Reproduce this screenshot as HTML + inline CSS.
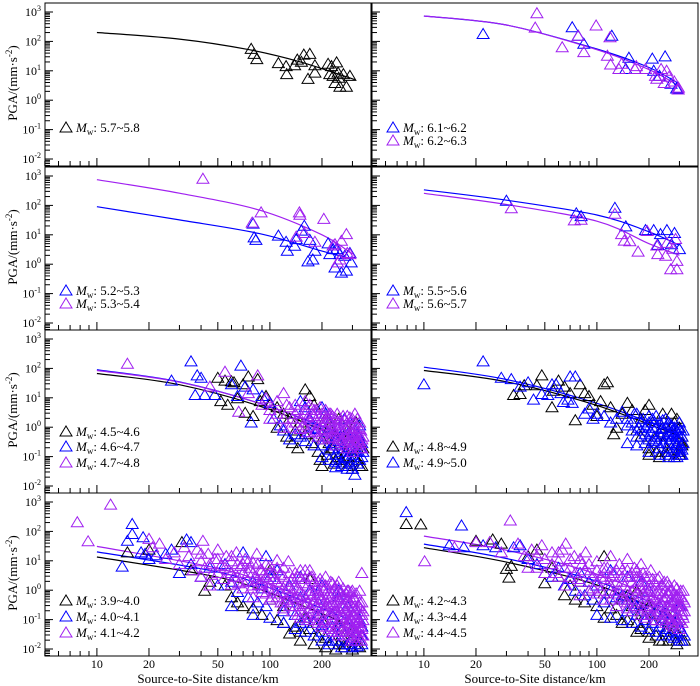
<!DOCTYPE html>
<html><head><meta charset="utf-8"><style>
html,body{margin:0;padding:0;background:#fff;}
svg{display:block;font-family:"Liberation Serif",serif;}
</style></head><body>
<svg id="chart" width="700" height="686" viewBox="0 0 700 686" xmlns="http://www.w3.org/2000/svg"></svg>
<script>
// ---------- data ----------
const yTickExps = [3,2,1,0,-1,-2];
const xTickLabels = [10,20,50,100,200];
const xMinorTicks = [5,6,7,8,9,30,40,60,70,80,90,300];
const rowTops = [12,176,339,502];

// Panel A: Mw 5.7~5.8
const ptsA1 = [[78,58],[81,39],[84,26],[112,19],[124,15],[125,8],[139,16],[144,25],[152,21],[157,37],[170,39],[182,16],[182,9],[166,5.5],[217,18],[227,15],[243,20],[222,8],[232,7],[248,9],[266,8],[290,7],[238,4],[254,3],[277,3],[250,6]];
const crvA1 = [[10,200],[30,120],[76,52],[150,20],[310,5]];
// Panel B: Mw 6.1~6.3
const ptsB1 = [[22,186],[72,316],[78,163],[84,87],[122,163],[153,29],[147,12],[209,27],[248,32],[213,10.5],[268,3.8],[289,2.6],[230,7]];
const ptsB2 = [[45,950],[44,307],[99,360],[78,160],[63,66],[84,45],[115,34],[119,145],[120,17],[134,12],[139,18],[166,12],[169,15],[191,12],[218,7],[222,5.6],[253,10.5],[261,6.5],[280,4.5],[296,2.8],[235,12],[295,2.4],[245,4]];
const crvB1 = [[10,730],[30,360],[100,55],[200,13],[300,3.6]];
const crvB2 = [[10,730],[30,360],[100,52],[200,11],[300,3]];
// Panel C: Mw 5.2~5.4
const ptsC1 = [[80,25],[81,8.5],[83,7],[112,9.8],[124,6],[126,3],[139,4.4],[142,7.4],[152,14.5],[158,21],[170,7],[182,3],[166,1.3],[177,1.5],[217,5.3],[222,2.3],[232,3.4],[243,3.4],[254,2.3],[238,0.8],[259,0.54],[277,0.63],[290,2.5],[295,1.2],[271,2]];
const ptsC2 = [[41,840],[79,27],[89,60],[148,60],[149,50],[142,9],[205,36],[158,12],[182,6],[238,5],[259,6.5],[277,11],[246,1.2],[254,1.5],[290,2.3],[280,2.5],[232,4.5]];
const crvC1 = [[10,90],[30,32],[87,11],[200,2.8],[300,1.5]];
const crvC2 = [[10,750],[30,260],[87,69],[200,10],[300,2.2]];
// Panel D: Mw 5.5~5.7
const ptsD1 = [[30,150],[76,56],[81,45],[127,86],[147,20],[191,15],[213,15],[233,11],[254,15],[281,12],[300,3.4],[225,4.7],[270,5]];
const ptsD2 = [[32,83],[74,32],[81,34],[127,54],[139,11],[144,6.6],[155,6.3],[173,2.8],[195,14],[222,4.5],[225,2.3],[250,2],[267,0.7],[290,0.7],[290,1.35],[275,3.5],[254,5.5],[285,7.5]];
const crvD1 = [[10,340],[30,150],[100,47],[200,12.6],[300,4.4]];
const crvD2 = [[10,257],[30,107],[100,29],[200,5],[300,2]];
// Panel E: Mw 4.5~4.8
const ptsE1 = [[50,50],[55,40],[60,38],[62,35],[75,55],[85,45],[70,30],[52,8],[57,6],[65,10],[72,3.2],[80,2.5],[88,8],[95,12],[100,6],[110,5],[120,3],[130,2],[140,0.8],[150,1.5],[160,20],[170,12],[180,6],[110,1],[125,0.5],[135,0.3],[145,0.2],[160,0.6],[175,0.3],[190,0.15],[200,0.4],[210,2],[220,1],[230,0.2],[240,0.5],[250,0.1],[260,0.08],[270,0.3],[280,0.05],[290,0.06],[300,0.04],[310,0.1],[320,0.2],[330,0.05],[195,0.08],[215,0.12],[235,0.06],[255,0.25],[275,0.15],[295,0.7],[315,1.5],[325,0.5],[250,2],[280,0.8],[300,0.3],[200,0.05],[240,0.08],[280,0.1],[320,0.08],[340,0.05],[345,0.2],[220,0.3],[260,0.4]];
const ptsE2 = [[27,40],[35,180],[38,60],[40,50],[37,13],[42,13],[48,13],[68,130],[72,25],[80,20],[60,30],[65,12],[78,1.5],[90,12],[100,7],[105,2],[115,1.2],[120,0.8],[130,0.4],[140,3],[150,8],[160,5],[170,2],[180,1],[190,0.5],[200,5],[210,3],[220,1.5],[230,0.8],[240,0.4],[250,0.2],[260,0.15],[270,0.1],[280,0.6],[290,0.3],[300,0.04],[310,0.025],[320,0.15],[330,0.08],[240,0.045],[260,0.06],[280,0.09],[300,0.12],[320,0.35],[330,1.2],[200,0.25],[220,0.18],[240,0.12],[180,0.25],[160,0.35],[140,0.6],[250,1],[270,2],[290,1.5],[310,0.8],[325,0.5],[215,0.7],[235,0.3],[255,0.5],[275,0.25],[295,0.2],[315,0.15],[200,0.1],[220,0.08],[240,0.07],[260,0.05],[280,0.04],[300,0.07],[320,0.06],[340,0.1],[340,0.3],[210,0.5],[230,0.25],[250,0.35],[270,0.2],[290,0.15],[310,0.4],[330,0.25],[345,0.15],[150,0.5],[170,0.7],[190,0.9]];
const ptsE3 = [[15,150],[45,25],[55,80],[75,15],[85,60],[66,3.5],[95,10],[110,8],[120,15],[130,5],[140,3],[150,2],[160,4],[170,6],[180,2.5],[190,1.2],[200,3],[210,1.5],[220,2],[230,1],[240,0.6],[250,1.5],[260,0.8],[270,0.5],[280,1.2],[290,0.35],[300,0.7],[310,3],[320,0.4],[330,0.9],[200,0.6],[220,0.45],[240,0.25],[260,0.3],[280,0.2],[300,0.15],[315,0.25],[330,0.2],[180,0.7],[160,1],[140,1.5],[120,2],[100,4],[90,6],[130,1],[150,0.9],[170,1.8],[190,0.5],[210,0.9],[230,0.5],[250,0.4],[270,1.8],[290,2.2],[305,1],[325,0.6],[185,4],[225,3],[265,2.5],[295,0.5],[315,0.3],[245,0.9],[205,1.2],[165,2.2],[100,2],[110,3],[120,1],[125,6],[135,2],[145,4],[155,1.2],[160,8],[165,0.7],[175,3],[180,1.5],[185,0.8],[190,2.5],[195,5],[200,1.2],[205,0.4],[210,4],[215,2],[220,0.8],[225,1.5],[230,2.5],[235,0.7],[240,1.2],[245,3],[250,0.7],[255,1.8],[260,0.4],[265,1.2],[270,0.3],[275,0.9],[280,2.5],[285,0.6],[290,1.2],[295,0.25],[300,2],[305,0.5],[310,1.5],[310,0.6],[315,1],[320,2],[320,0.7],[325,0.35],[330,1.5],[330,0.5],[335,0.3],[335,0.8],[340,0.4],[340,0.2],[345,0.5],[300,0.25],[280,0.35],[260,1.5],[240,2],[220,3],[200,2],[180,4],[160,3],[140,6]];
const crvE1 = [[10,67],[30,28],[100,4],[300,0.3]];
const crvE2 = [[10,90],[30,35],[100,5],[300,0.4]];
const crvE3 = [[10,85],[30,34],[100,5],[300,0.45]];
// Panel F: Mw 4.8~5.0
const ptsF1 = [[33,13],[36,14],[38,28],[45,28],[48,60],[55,5],[56,18],[60,40],[65,25],[70,15],[75,1.8],[80,30],[85,15],[90,12],[95,6],[100,2.5],[105,8],[110,30],[115,35],[120,5],[125,0.6],[130,1],[140,3],[150,7],[160,4],[170,0.8],[180,2],[190,4],[200,6],[210,1.5],[220,0.5],[230,0.1],[240,0.3],[250,2],[260,0.8],[270,0.2],[280,1.5],[290,0.4],[300,0.15],[310,0.3],[180,0.5],[200,0.2],[220,0.15],[240,1],[260,0.15],[280,0.6],[300,1],[310,0.25],[200,0.12],[250,0.15],[280,0.1],[300,0.12],[310,0.5],[240,3],[270,3],[290,2]];
const ptsF2 = [[10,30],[22,180],[28,50],[32,45],[36,25],[40,35],[43,9],[48,14],[52,13],[55,30],[58,30],[62,15],[64,7.5],[70,55],[75,55],[72,7],[68,9],[85,3],[90,4.5],[95,2],[100,3],[110,2.5],[120,1.5],[130,2],[140,3.5],[150,1.2],[160,0.8],[170,3],[180,1.5],[190,0.6],[200,2.5],[210,1],[220,0.4],[230,0.2],[240,1.8],[250,0.5],[260,0.3],[270,1.2],[280,0.15],[290,0.5],[300,0.2],[305,0.8],[310,0.12],[150,0.3],[170,0.25],[190,0.3],[210,0.35],[230,0.6],[250,0.12],[270,0.7],[290,0.25],[175,1],[195,1.2],[215,1.5],[235,0.9],[255,1.3],[275,0.5],[295,1],[150,2],[160,1.5],[165,3],[170,0.5],[180,0.8],[185,2],[190,1],[200,0.4],[200,1.5],[205,0.7],[210,2],[215,0.5],[220,1],[220,2.5],[225,0.3],[230,1.5],[235,0.5],[240,0.7],[245,0.3],[250,1],[250,2],[255,0.2],[260,0.6],[260,1.5],[265,0.4],[270,0.15],[275,0.8],[280,0.3],[280,1],[285,0.5],[290,0.15],[290,0.8],[295,0.35],[300,0.5],[300,1.5],[305,0.25],[310,0.5],[310,0.18],[315,0.3],[315,0.8],[200,0.15],[230,0.12],[260,0.1],[290,0.1],[305,0.12]];
const crvF1 = [[10,85],[30,35],[100,5.5],[300,0.5]];
const crvF2 = [[10,110],[30,42],[100,6.5],[300,0.6]];
// Panel G: Mw 3.9~4.2
const ptsG1 = [[15,20],[20,25],[31,45],[42,1],[35,5],[45,2],[55,1.5],[60,0.6],[65,0.4],[70,0.3],[80,0.25],[90,0.15],[100,0.5],[110,0.1],[120,0.08],[130,0.035],[140,0.06],[150,0.04],[170,0.05],[190,0.03],[210,0.025],[230,0.02],[250,0.015],[270,0.012],[290,0.02],[310,0.015],[330,0.012],[100,5],[170,2.5],[120,0.3],[200,0.1],[250,0.06],[300,0.04],[150,0.02],[180,0.015],[210,0.012],[240,0.01],[270,0.015],[300,0.01],[330,0.02],[160,0.12],[260,0.03]];
const ptsG2 = [[14,6.6],[16,186],[16,85],[15,50],[18.5,66],[19,18],[35,45],[18,20],[20,12],[22,16],[25,18],[27,25],[30,4],[33,55],[35,8],[40,3],[45,6],[50,1.5],[55,8],[60,2],[65,0.9],[70,4],[75,0.6],[80,2],[85,0.4],[90,1.2],[95,0.3],[100,3],[110,0.8],[120,0.2],[130,1.5],[140,0.15],[150,0.6],[160,0.1],[170,1],[180,0.08],[190,0.4],[200,0.04],[210,0.3],[220,0.02],[230,0.15],[240,0.03],[250,0.6],[260,0.02],[270,0.1],[280,0.3],[290,0.015],[300,0.05],[310,0.2],[320,0.013],[330,0.1],[340,0.03],[200,1.5],[250,1],[150,3],[110,5],[230,0.06],[260,0.05],[290,0.04],[310,0.03],[70,20],[95,15],[130,0.4],[170,0.25],[190,0.15],[60,0.3],[80,0.15],[100,0.12],[120,0.08],[140,0.05],[160,0.04],[180,0.03],[200,0.02],[220,0.015],[240,0.02],[260,0.012],[280,0.015],[300,0.012],[320,0.02],[340,0.015],[150,0.08],[200,0.07],[250,0.03],[300,0.025],[340,0.06]];
const ptsG3 = [[7.7,213],[8.9,48],[12,850],[20,58],[21,30],[23,40],[41,50],[25,12],[28,20],[30,8],[32,30],[34,15],[36,5],[38,25],[40,10],[42,6],[44,18],[46,3.5],[48,12],[50,25],[52,7],[54,2.5],[56,15],[58,5],[60,10],[62,3],[64,20],[66,1.8],[68,7],[70,4],[72,12],[74,2.2],[76,6],[78,1.2],[80,9],[82,3],[84,18],[86,1.6],[88,5],[90,0.9],[92,3.5],[95,8],[98,1.2],[100,4],[103,0.6],[106,2.5],[110,6],[113,1.5],[116,0.4],[120,3],[124,0.9],[128,10],[132,2],[136,0.5],[140,4],[144,1.2],[148,0.3],[152,2.5],[156,0.7],[160,5],[165,1.5],[170,0.25],[175,3],[180,0.8],[185,0.15],[190,2],[195,0.5],[200,1.2],[205,0.1],[210,3],[215,0.35],[220,0.8],[225,0.06],[230,1.8],[235,0.2],[240,0.5],[245,0.04],[250,1.2],[255,0.12],[260,0.3],[265,0.7],[270,0.03],[275,0.2],[280,1],[285,0.08],[290,0.4],[295,0.02],[300,0.15],[305,0.6],[310,0.05],[315,0.25],[320,0.03],[325,0.1],[330,0.4],[335,0.06],[340,4],[340,0.15],[338,0.02],[120,0.25],[150,0.12],[180,0.4],[200,0.3],[220,0.15],[240,0.2],[260,0.1],[280,0.06],[300,0.05],[320,0.08],[110,11],[170,5],[250,2],[300,1],[330,1],[140,0.6],[190,0.7],[230,0.4],[270,0.6],[310,0.3],[90,2],[130,0.7],[160,0.35],[210,0.5],[250,0.25],[290,0.12],[325,0.04],[60,1.6],[70,1.2],[80,0.6],[45,1.5],
 [40,3],[40,18],[45,8],[50,4],[50,12],[55,6],[60,4],[60,15],[65,3],[65,8],[70,2],[70,8],[75,4],[75,10],[80,1.5],[80,4],[85,2.5],[85,8],[90,1.5],[90,5],[95,0.8],[95,3],[100,0.5],[100,1.8],[100,7],[105,1],[105,4],[110,0.6],[110,2],[115,0.8],[115,3.5],[120,0.4],[120,1.2],[120,6],[125,0.5],[125,2],[130,0.3],[130,1.2],[130,4],[135,0.2],[135,0.8],[135,2.5],[140,0.3],[140,1.5],[145,0.15],[145,0.6],[145,3],[150,0.2],[150,1],[150,5],[155,0.35],[155,1.8],[160,0.15],[160,0.6],[160,2.5],[165,0.1],[165,0.4],[170,0.12],[170,0.8],[170,3],[175,0.2],[175,1],[180,0.1],[180,0.5],[180,2],[185,0.3],[185,1.2],[190,0.08],[190,0.25],[190,1],[195,0.15],[195,0.7],[195,2.5],[200,0.06],[200,0.5],[200,2],[205,0.2],[205,1],[210,0.08],[210,0.3],[210,1.5],[215,0.06],[215,0.6],[220,0.05],[220,0.3],[220,1.2],[225,0.15],[225,0.6],[225,2],[230,0.04],[230,0.1],[230,0.8],[235,0.3],[235,1.2],[240,0.05],[240,0.12],[240,0.8],[245,0.3],[245,1.5],[250,0.03],[250,0.08],[250,0.5],[255,0.2],[255,0.9],[260,0.04],[260,0.15],[260,0.6],[265,0.05],[265,0.25],[265,1.2],[270,0.08],[270,0.3],[275,0.04],[275,0.12],[275,0.8],[280,0.03],[280,0.2],[280,0.5],[285,0.05],[285,0.3],[285,1],[290,0.03],[290,0.08],[290,0.6],[295,0.05],[295,0.2],[295,0.9],[300,0.025],[300,0.1],[300,0.3],[305,0.04],[305,0.15],[310,0.02],[310,0.08],[310,0.5],[315,0.04],[315,0.12],[315,0.8],[320,0.02],[320,0.05],[320,0.2],[325,0.06],[325,0.3],[330,0.025],[330,0.15],[335,0.03],[335,0.08],[335,0.25],[340,0.05],[340,0.4],[345,0.03],[345,0.1],[345,0.2]];
const crvG1 = [[10,13.5],[47,3],[100,0.8],[300,0.06]];
const crvG2 = [[10,20],[47,4.5],[100,1.2],[300,0.09]];
const crvG3 = [[10,31],[47,6],[100,1.6],[300,0.12]];
// Panel H: Mw 4.2~4.5
const ptsH1 = [[7.9,186],[9.6,180],[20,50],[25,55],[28,40],[30,5.5],[31,2.8],[32,7],[40,15],[45,25],[50,1.8],[55,6],[60,3],[65,0.7],[70,1.5],[75,0.5],[80,2],[85,0.4],[90,1],[100,0.3],[110,15],[110,0.8],[120,0.25],[130,0.15],[140,0.5],[150,0.1],[160,0.3],[170,0.08],[180,0.05],[190,0.15],[200,0.04],[210,0.1],[220,0.03],[230,0.06],[240,0.02],[250,0.04],[260,0.08],[270,0.03],[280,0.05],[290,0.02],[300,0.03],[310,0.02],[150,0.7],[200,0.3],[250,0.2],[300,0.1],[120,1.5],[170,1],[110,0.12],[140,0.08],[170,0.04],[200,0.025],[230,0.02],[260,0.02],[290,0.015],[320,0.02],[180,0.2],[240,0.1]];
const ptsH2 = [[7.9,470],[16.5,165],[14,35],[17,30],[22,35],[26,30],[33,30],[36,35],[40,12],[45,8],[50,4],[55,3],[60,6],[65,1.5],[70,2.5],[75,1],[80,4],[85,0.7],[90,2],[95,0.5],[100,1.5],[110,0.4],[120,1],[130,0.3],[140,0.7],[150,0.2],[160,0.5],[170,0.15],[180,0.35],[190,0.1],[200,0.25],[210,0.08],[220,0.2],[230,0.06],[240,0.15],[250,0.05],[260,0.1],[270,0.04],[280,0.08],[290,0.03],[300,0.06],[310,0.02],[310,0.04],[150,3],[200,1],[250,0.6],[300,0.3],[120,5],[180,2],[270,0.4],[100,0.15],[120,0.12],[140,0.1],[160,0.08],[180,0.06],[200,0.05],[220,0.04],[240,0.03],[260,0.03],[280,0.025],[300,0.02],[320,0.03],[130,0.6],[170,0.3],[210,0.15],[250,0.12],[290,0.1],[310,0.15],[150,0.5],[230,0.3]];
const ptsH3 = [[10.1,10],[31.6,245],[15,30],[20,45],[24,45],[28,20],[35,40],[38,15],[42,25],[45,6],[48,35],[50,12],[55,20],[58,4],[60,10],[63,25],[66,40],[66,1.5],[70,6],[74,15],[78,2.5],[82,8],[86,20],[90,4],[95,1.2],[100,10],[105,3],[110,6],[115,1.5],[120,15],[125,4],[130,0.8],[135,8],[140,2],[145,0.5],[150,12],[155,3],[160,1],[165,6],[170,0.4],[175,2],[180,8],[185,0.8],[190,3],[195,0.3],[200,1.5],[205,5],[210,0.6],[215,2],[220,0.25],[225,1],[230,3],[235,0.4],[240,1.5],[245,0.15],[250,0.6],[255,2],[260,0.3],[265,1],[270,0.1],[275,0.5],[280,1.5],[285,0.2],[290,0.7],[295,0.08],[300,0.4],[305,1],[310,0.15],[315,0.5],[100,0.8],[130,0.3],[160,0.2],[190,0.12],[220,0.1],[250,0.08],[280,0.06],[300,0.05],[120,0.5],[150,0.25],[180,0.15],[210,0.15],[240,0.1],[270,0.07],[140,5],[170,3],[200,0.7],[230,0.5],[260,0.8],[290,0.3],[310,0.2],[90,1],[70,3],[80,0.7],[110,2.5],
 [40,6],[45,15],[50,4],[55,8],[60,3],[60,20],[65,6],[70,12],[75,4],[80,2],[80,12],[85,5],[90,8],[95,3],[100,2],[100,5],[105,1],[110,0.5],[110,4],[115,6],[120,1.5],[120,3],[125,0.8],[130,2],[130,5],[135,1],[140,0.6],[140,3],[145,1.5],[150,0.4],[150,1],[150,5],[155,0.7],[160,2],[160,4],[165,0.3],[165,1.2],[170,0.8],[170,5],[175,0.5],[175,3],[180,0.25],[180,1.2],[185,2],[185,4],[190,0.6],[190,1.5],[195,0.2],[195,0.9],[200,0.4],[200,3],[205,0.15],[205,1.2],[210,0.3],[210,2.5],[215,0.5],[215,1],[220,0.15],[220,1.5],[225,0.4],[225,2.5],[230,0.2],[230,0.8],[235,0.1],[235,1.5],[240,0.3],[240,0.8],[245,0.5],[245,2],[250,0.15],[250,1],[255,0.3],[255,0.8],[260,0.12],[260,1.5],[265,0.2],[265,0.5],[270,0.3],[270,1],[275,0.08],[275,0.2],[280,0.4],[280,0.8],[285,0.1],[285,0.5],[290,0.15],[290,1.2],[295,0.3],[295,0.6],[300,0.1],[300,0.2],[305,0.3],[305,0.6],[310,0.08],[310,0.3],[315,0.12],[315,1],[320,0.2],[320,0.4]];
const crvH1 = [[10,28],[30,9],[100,1.5],[300,0.1]];
const crvH2 = [[10,37],[30,12],[100,2],[300,0.15]];
const crvH3 = [[10,69],[30,23],[100,3.5],[300,0.25]];

const BLACK='#000000', BLUE='#0000ff', PURPLE='#a020f0';
const panels = [
 {id:'a',col:0,row:0,leg:[115],series:[{lab:'5.7~5.8',c:BLACK,p:ptsA1,k:crvA1}]},
 {id:'b',col:1,row:0,leg:[115,128],series:[{lab:'6.1~6.2',c:BLUE,p:ptsB1,k:crvB1},{lab:'6.2~6.3',c:PURPLE,p:ptsB2,k:crvB2}]},
 {id:'c',col:0,row:1,leg:[114,127],series:[{lab:'5.2~5.3',c:BLUE,p:ptsC1,k:crvC1},{lab:'5.3~5.4',c:PURPLE,p:ptsC2,k:crvC2}]},
 {id:'d',col:1,row:1,leg:[114,127],series:[{lab:'5.5~5.6',c:BLUE,p:ptsD1,k:crvD1},{lab:'5.6~5.7',c:PURPLE,p:ptsD2,k:crvD2}]},
 {id:'e',col:0,row:2,leg:[92,107,123],series:[{lab:'4.5~4.6',c:BLACK,p:ptsE1,k:crvE1},{lab:'4.6~4.7',c:BLUE,p:ptsE2,k:crvE2},{lab:'4.7~4.8',c:PURPLE,p:ptsE3,k:crvE3}]},
 {id:'f',col:1,row:2,leg:[107,123],series:[{lab:'4.8~4.9',c:BLACK,p:ptsF1,k:crvF1},{lab:'4.9~5.0',c:BLUE,p:ptsF2,k:crvF2}]},
 {id:'g',col:0,row:3,leg:[98,114,130],series:[{lab:'3.9~4.0',c:BLACK,p:ptsG1,k:crvG1},{lab:'4.0~4.1',c:BLUE,p:ptsG2,k:crvG2},{lab:'4.1~4.2',c:PURPLE,p:ptsG3,k:crvG3}]},
 {id:'h',col:1,row:3,leg:[98,114,130],series:[{lab:'4.2~4.3',c:BLACK,p:ptsH1,k:crvH1},{lab:'4.3~4.4',c:BLUE,p:ptsH2,k:crvH2},{lab:'4.4~4.5',c:PURPLE,p:ptsH3,k:crvH3}]}
];

// ---------- drawing ----------
const NS='http://www.w3.org/2000/svg';
const svg=document.getElementById('chart');
function mk(tag,attrs,parent){const e=document.createElementNS(NS,tag);for(const k in attrs)e.setAttribute(k,attrs[k]);(parent||svg).appendChild(e);return e;}
const PW=326;
function colX0(col){return col===0?45:372;}
function xScale(col,d){return colX0(col)+(Math.log10(d)-0.7)*173;}
function yScale(y3,v){return y3+(3-Math.log10(v))*29.4;}
function smoothPath(pts){
  let d='M'+pts[0][0].toFixed(1)+','+pts[0][1].toFixed(1);
  for(let i=0;i<pts.length-1;i++){
    const p0=pts[Math.max(0,i-1)],p1=pts[i],p2=pts[i+1],p3=pts[Math.min(pts.length-1,i+2)];
    const c1=[p1[0]+(p2[0]-p0[0])/6,p1[1]+(p2[1]-p0[1])/6];
    const c2=[p2[0]-(p3[0]-p1[0])/6,p2[1]-(p3[1]-p1[1])/6];
    d+=`C${c1[0].toFixed(1)},${c1[1].toFixed(1)} ${c2[0].toFixed(1)},${c2[1].toFixed(1)} ${p2[0].toFixed(1)},${p2[1].toFixed(1)}`;
  }
  return d;
}

panels.forEach(P=>{
  const x0=colX0(P.col), y3=rowTops[P.row];
  const top=y3-9, bot=y3+154;
  const g=mk('g',{});
  
  
  const clipId='clip-'+P.id;
  const cp=mk('clipPath',{id:clipId},g);
  mk('rect',{x:x0,y:top,width:PW,height:bot-top},cp);
  const yt=mk('g',{stroke:'#000','stroke-width':1},g);
  
  
  yTickExps.forEach(e=>{
    const y=yScale(y3,Math.pow(10,e));
    mk('line',{x1:x0,x2:x0+8,y1:y,y2:y},yt);
    if(e>-2){for(let m=2;m<10;m++){const ym=yScale(y3,m*Math.pow(10,e-1));mk('line',{x1:x0,x2:x0+5,y1:ym,y2:ym},yt);}}
    if(e===3){for(let m=2;m<10;m++){const ym=yScale(y3,m*Math.pow(10,e));if(ym>top+1)mk('line',{x1:x0,x2:x0+5,y1:ym,y2:ym},yt);}}
    if(P.col===0){
      const t=mk('text',{x:x0-4,y:y+4,'text-anchor':'end','font-size':12},g);
      
      
      t.appendChild(document.createTextNode('10'));
      const s=mk('tspan',{dy:-5,'font-size':8},t);s.textContent=String(e);
    }
  });
  for(let m=5;m<10;m++){const ym=yScale(y3,m*0.001);if(ym<bot)mk('line',{x1:x0,x2:x0+5,y1:ym,y2:ym},yt);}
  const xt=mk('g',{stroke:'#000','stroke-width':1},g);
  
  
  xTickLabels.forEach(d=>{const x=xScale(P.col,d);mk('line',{x1:x,x2:x,y1:bot,y2:bot-8},xt);
    if(P.row===3){const t=mk('text',{x:x,y:bot+12,'text-anchor':'middle','font-size':12},g);
      
      
      t.textContent=String(d);}
  });
  xMinorTicks.forEach(d=>{const x=xScale(P.col,d);mk('line',{x1:x,x2:x,y1:bot,y2:bot-5},xt);});
  const dataG=mk('g',{'clip-path':'url(#'+clipId+')'},g);
  // fitted curves first (points overlay them, as in reference)
  P.series.forEach(S=>{
    const pts=S.k.map(k=>[xScale(P.col,k[0]),yScale(y3,k[1])]);
    const ln=mk('path',{d:smoothPath(pts),fill:'none',stroke:S.c,'stroke-width':1.2},dataG);
    
    
  });
  P.series.forEach(S=>{
    const sg=mk('g',{fill:'none',stroke:S.c,'stroke-width':1},dataG);
    
    
    S.p.forEach(pt=>{
      const cx=xScale(P.col,pt[0]), cy=yScale(y3,pt[1]);
      const tri=mk('path',{d:`M${(cx-6).toFixed(1)},${(cy+5).toFixed(1)}L${(cx+6).toFixed(1)},${(cy+5).toFixed(1)}L${cx.toFixed(1)},${(cy-5).toFixed(1)}Z`},sg);
      
      
    });
  });
  P.series.forEach((S,i)=>{
    const ly=y3+P.leg[i];
    const lg=mk('g',{},g);
    
    
    mk('path',{d:`M${x0+15},${ly+5}L${x0+27},${ly+5}L${x0+21},${ly-5}Z`,fill:'none',stroke:S.c,'stroke-width':1},lg);
    const t=mk('text',{x:x0+31,y:ly+5,'font-size':13},lg);
    const m=mk('tspan',{'font-style':'italic'},t);m.textContent='M';
    const w=mk('tspan',{'font-size':9,dy:3},t);w.textContent='w';
    const r=mk('tspan',{dy:-3},t);r.textContent=': '+S.lab;
  });
  const fr=mk('rect',{x:x0,y:top,width:PW,height:bot-top,fill:'none',stroke:'#000','stroke-width':1},g);
  
  
  if(P.col===0){
    const cy=y3+71;
    const t=mk('text',{x:0,y:0,'font-size':13,'text-anchor':'middle',transform:`translate(17,${cy}) rotate(-90)`},g);
    
    
    t.appendChild(document.createTextNode('PGA/(mm·s'));
    const s=mk('tspan',{dy:-5,'font-size':9},t);s.textContent='-2';
    const s2=mk('tspan',{dy:5},t);s2.textContent=')';
  }
  if(P.row===3){
    const t=mk('text',{x:x0+PW/2,y:683,'text-anchor':'middle','font-size':13},g);
    
    
    t.textContent='Source-to-Site distance/km';
  }
});
</script>
</body></html>
